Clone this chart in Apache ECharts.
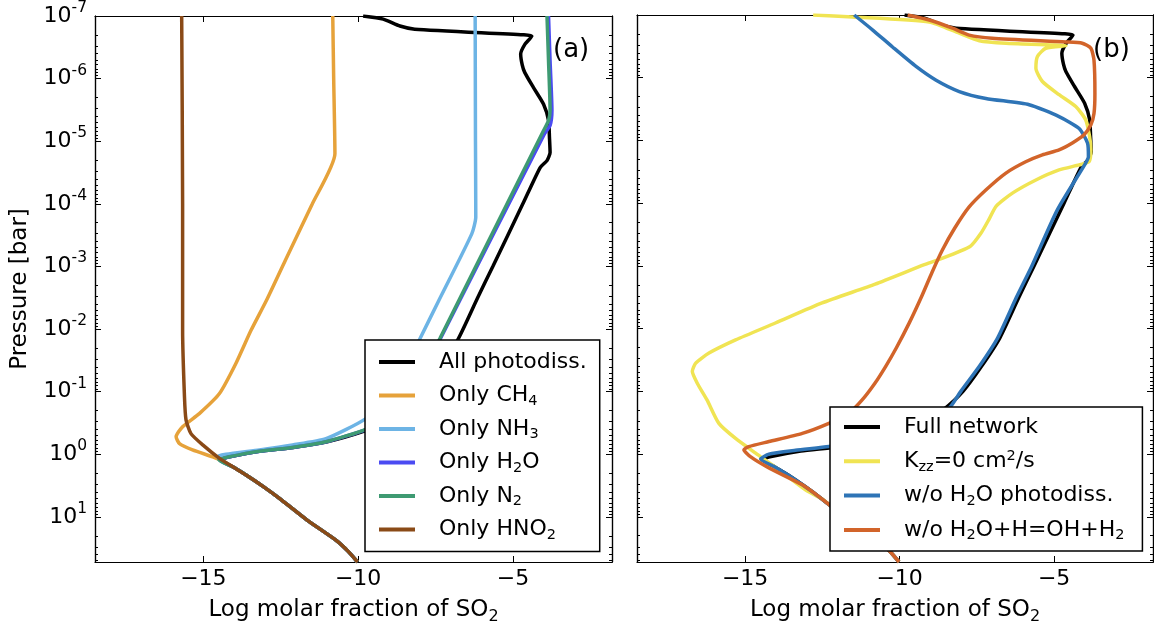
<!DOCTYPE html>
<html><head><meta charset="utf-8">
<script src="https://cdn.jsdelivr.net/npm/echarts@6/dist/echarts.min.js"></script>
<style>html,body{margin:0;padding:0;background:#fff}#c{width:1154px;height:630px}</style>
</head><body><div id="c"></div>
<script>
// ---------- axis ticks ----------
const yMajorTicks = [-7, -6, -5, -4, -3, -2, -1, 0, 1];   // log10(P / bar)
const xMajorTicks = [-15, -10, -5];                          // log molar fraction
const xRange = [-18.5, -1.8];
const yRange = [-7, 1.72];

// ---------- data: [log10 molar fraction of SO2, log10 pressure(bar)] ----------
const deepTail = [[-13.62,0.33],[-13.05,0.52],[-12.5,0.72],[-11.65,1.05],[-10.72,1.37],[-10.32,1.55],[-10.02,1.72]];

const allPhotodiss = [[-9.84,-7.0],[-9.19,-6.95],[-8.65,-6.84],[-8.17,-6.79],[-4.66,-6.70],[-4.39,-6.68],[-4.61,-6.55],[-4.75,-6.39],[-4.70,-6.22],[-4.62,-6.10],[-4.34,-5.86],[-4.01,-5.59],[-3.85,-5.33],[-3.82,-5.06],[-3.80,-4.82],[-3.90,-4.69],[-4.12,-4.58],[-4.68,-4.0],[-5.65,-3.0],[-6.14,-2.5],[-6.76,-1.85],[-7.35,-1.4],[-7.95,-1.0],[-8.6,-0.7],[-9.2,-0.5],[-9.8,-0.37],[-11.0,-0.2],[-12.1,-0.11],[-13.2,-0.05],[-14.16,0.04],[-14.45,0.09],[-14.05,0.2]];
const onlyCH4 = [[-10.82,-7.0],[-10.79,-6.0],[-10.75,-4.80],[-11.49,-3.99],[-12.35,-3.1],[-12.96,-2.46],[-13.46,-1.98],[-13.95,-1.45],[-14.48,-0.97],[-15.13,-0.65],[-15.67,-0.44],[-15.88,-0.28],[-15.77,-0.17],[-15.35,-0.07],[-14.70,0.04],[-14.45,0.09],[-14.05,0.2]];
const onlyNH3 = [[-6.22,-7.0],[-6.21,-5.0],[-6.20,-3.79],[-6.33,-3.52],[-7.39,-2.46],[-8.0,-1.85],[-8.35,-1.5],[-8.7,-1.2],[-9.1,-0.9],[-9.75,-0.57],[-11.04,-0.25],[-12.12,-0.15],[-13.19,-0.07],[-14.27,0.0],[-14.54,0.04],[-14.4,0.1],[-14.05,0.2]];
const onlyH2O = [[-3.85,-7.0],[-3.80,-6.28],[-3.74,-5.49],[-3.80,-5.25],[-3.98,-5.12],[-7.34,-1.85],[-7.70,-1.5],[-8.03,-1.2],[-8.43,-0.9],[-9.03,-0.6],[-9.73,-0.40],[-11.02,-0.20],[-12.10,-0.11],[-13.17,-0.05],[-14.14,0.04],[-14.48,0.09],[-14.05,0.2]];
const onlyN2 = [[-3.90,-7.0],[-3.85,-6.28],[-3.80,-5.49],[-3.85,-5.33],[-4.01,-5.17],[-7.36,-1.85],[-7.72,-1.5],[-8.05,-1.2],[-8.45,-0.9],[-9.05,-0.6],[-9.75,-0.40],[-11.04,-0.20],[-12.12,-0.11],[-13.19,-0.05],[-14.16,0.04],[-14.5,0.09],[-14.05,0.2]];
const onlyHNO2 = [[-15.70,-7.0],[-15.67,-4.0],[-15.67,-1.98],[-15.61,-0.92],[-15.56,-0.55],[-15.40,-0.33],[-15.02,-0.15],[-14.48,0.065],[-14.05,0.2]];

const kzzZero = [[-12.8,-7.0],[-11.52,-6.97],[-9.04,-6.89],[-8.07,-6.71],[-7.42,-6.59],[-6.56,-6.55],[-4.62,-6.51],[-5.27,-6.47],[-5.54,-6.34],[-5.59,-6.15],[-5.38,-5.94],[-4.84,-5.73],[-4.30,-5.54],[-3.98,-5.33],[-3.85,-5.06],[-3.81,-4.85],[-3.87,-4.66],[-4.19,-4.61],[-4.84,-4.53],[-5.59,-4.37],[-6.35,-4.16],[-6.88,-3.95],[-7.1,-3.75],[-7.37,-3.52],[-7.72,-3.31],[-8.74,-3.10],[-9.2,-3.02],[-10.79,-2.71],[-12.51,-2.41],[-14.02,-2.09],[-15.31,-1.82],[-16.17,-1.61],[-16.60,-1.45],[-16.71,-1.32],[-16.55,-1.13],[-16.23,-0.86],[-15.85,-0.49],[-15.31,-0.25],[-14.66,-0.015],[-13.91,0.25],[-13.05,0.57],[-12.5,0.72]];
const noH2OPhoto = [[-11.47,-7.0],[-10.87,-6.76],[-10.23,-6.49],[-9.47,-6.18],[-8.82,-5.96],[-8.07,-5.78],[-7.21,-5.67],[-5.81,-5.57],[-4.84,-5.38],[-4.19,-5.19],[-3.92,-4.96],[-3.89,-4.74],[-3.98,-4.64],[-4.90,-3.89],[-5.72,-3.0],[-6.22,-2.5],[-6.83,-1.85],[-7.42,-1.4],[-8.02,-1.0],[-8.35,-0.76],[-8.75,-0.6],[-9.35,-0.45],[-10.3,-0.3],[-11.3,-0.2],[-12.29,-0.12],[-13.37,-0.06],[-14.23,0.0],[-14.50,0.08],[-14.05,0.2]];
const noH2OplusH = [[-9.74,-7.0],[-9.04,-6.92],[-8.29,-6.79],[-7.75,-6.68],[-7.0,-6.63],[-4.62,-6.57],[-4.09,-6.55],[-3.81,-6.47],[-3.71,-6.28],[-3.68,-5.75],[-3.71,-5.43],[-3.81,-5.25],[-4.03,-5.09],[-4.41,-4.96],[-4.84,-4.85],[-5.38,-4.77],[-5.92,-4.66],[-6.56,-4.48],[-7.21,-4.21],[-7.75,-3.94],[-8.22,-3.6],[-8.62,-3.25],[-8.95,-2.9],[-9.3,-2.5],[-9.68,-2.1],[-10.1,-1.7],[-10.45,-1.4],[-10.8,-1.13],[-11.22,-0.86],[-11.65,-0.65],[-12.29,-0.49],[-13.15,-0.33],[-14.23,-0.20],[-14.88,-0.12],[-15.04,-0.07],[-14.83,0.04],[-14.23,0.22],[-13.15,0.49],[-12.5,0.72]];

// ---------- names / colours ----------
const namesA = ['All photodiss.', 'Only CH4', 'Only NH3', 'Only H2O', 'Only N2', 'Only HNO2'];
const namesB = ['Full network', 'Kzz=0 cm2/s', 'w/o H2O photodiss.', 'w/o H2O+H=OH+H2'];
const richNames = {
  'All photodiss.': 'All photodiss.',
  'Only CH4': 'Only CH{s|4}',
  'Only NH3': 'Only NH{s|3}',
  'Only H2O': 'Only H{s|2}O',
  'Only N2': 'Only N{s|2}',
  'Only HNO2': 'Only HNO{s|2}',
  'Full network': 'Full network',
  'Kzz=0 cm2/s': 'K{s|zz}=0 cm{p|2}/s',
  'w/o H2O photodiss.': 'w/o H{s|2}O photodiss.',
  'w/o H2O+H=OH+H2': 'w/o H{s|2}O+H=OH+H{s|2}'
};
const colorsA = ['#000000', '#E6A23A', '#6DB4E5', '#4B4BF2', '#3E9A72', '#8A4A17'];
const colorsB = ['#000000', '#F0E453', '#2E74B6', '#D2642A'];

const FONT = 'DejaVu Sans';
const withTail = arr => arr.concat(deepTail.filter(p => p[1] > arr[arr.length - 1][1]));

const yMinorTicks = [];
for (let n = -7; n <= 1; n++) for (let k = 2; k <= 9; k++) {
  const v = n + Math.log10(k);
  if (v < yRange[1]) yMinorTicks.push(v);
}

const subRich = {
  s: {fontFamily: FONT, fontSize: 14.5, lineHeight: 14, verticalAlign: 'bottom', color: '#000'},
  p: {fontFamily: FONT, fontSize: 14.5, lineHeight: 14, verticalAlign: 'top', color: '#000'},
  g: {fontFamily: FONT, fontSize: 19, width: 19}
};

function xAx(grid, pos, withLabel) {
  return {
    type: 'value', gridIndex: grid, position: pos, min: xRange[0], max: xRange[1],
    axisLine: {show: true, onZero: false, lineStyle: {color: '#000', width: 1.2}},
    axisTick: {show: true, inside: true, length: 6, customValues: xMajorTicks, lineStyle: {color: '#000', width: 1}},
    axisLabel: {show: withLabel, customValues: xMajorTicks, margin: 6, fontSize: 22, fontFamily: FONT, color: '#000',
      formatter: v => (v < 0 ? '\u2212' : '') + Math.abs(v)},
    splitLine: {show: false},
    name: withLabel ? 'Log molar fraction of SO{s|2}' : '',
    nameLocation: 'middle', nameGap: 33,
    nameTextStyle: {fontFamily: FONT, fontSize: 23, color: '#000', lineHeight: 30, rich: {
      s: {fontFamily: FONT, fontSize: 16, lineHeight: 16, verticalAlign: 'bottom', color: '#000'}}}
  };
}
function yAx(grid, pos, ticks, len, withLabel) {
  return {
    type: 'value', gridIndex: grid, position: pos, inverse: true, min: yRange[0], max: yRange[1],
    axisLine: {show: true, onZero: false, lineStyle: {color: '#000', width: 1.2}},
    axisTick: {show: true, inside: true, length: len, customValues: ticks, lineStyle: {color: '#000', width: 1}},
    axisLabel: {show: withLabel, customValues: yMajorTicks, margin: 8, color: '#000',
      formatter: v => '{b|10}{e|' + (v < 0 ? '-' : '') + Math.abs(v) + '}',
      rich: {b: {fontFamily: FONT, fontSize: 22, lineHeight: 32, color: '#000'},
             e: {fontFamily: FONT, fontSize: 15.5, lineHeight: 16, verticalAlign: 'top', color: '#000'}}},
    splitLine: {show: false},
    name: withLabel ? 'Pressure [bar]' : '',
    nameLocation: 'middle', nameGap: 63,
    nameTextStyle: {fontFamily: FONT, fontSize: 23, color: '#000'}
  };
}

const seriesA = [allPhotodiss, onlyCH4, onlyNH3, onlyH2O, onlyN2, onlyHNO2];
const seriesB = [allPhotodiss, kzzZero, noH2OPhoto, noH2OplusH];
const series = [];
seriesA.forEach((d, i) => series.push({
  type: 'line', name: namesA[i], xAxisIndex: 0, yAxisIndex: 0, data: withTail(d),
  showSymbol: false, symbol: 'none', smooth: 0.2, color: colorsA[i],
  lineStyle: {width: 3.5, color: colorsA[i]}, animation: false
}));
seriesB.forEach((d, i) => series.push({
  type: 'line', name: namesB[i], xAxisIndex: 2, yAxisIndex: 4, data: withTail(d),
  showSymbol: false, symbol: 'none', smooth: 0.2, color: colorsB[i],
  lineStyle: {width: 3.5, color: colorsB[i]}, animation: false
}));

function legendCfg(names, left, top, padding, gap) {
  return {
    data: names, orient: 'vertical', left: left, top: top, padding: padding, itemGap: gap,
    icon: 'rect', itemWidth: 36, itemHeight: 4, selectedMode: false,
    backgroundColor: '#fff', borderColor: '#000', borderWidth: 1.5, borderRadius: 0,
    formatter: n => '{g| }' + richNames[n],
    textStyle: {fontFamily: FONT, fontSize: 22, lineHeight: 26, color: '#000', rich: subRich}
  };
}

const option = {
  animation: false,
  backgroundColor: '#fff',
  textStyle: {fontFamily: FONT},
  grid: [
    {left: 95, top: 15, width: 517, height: 547},
    {left: 637, top: 15, width: 516, height: 547}
  ],
  xAxis: [xAx(0, 'bottom', true), xAx(0, 'top', false), xAx(1, 'bottom', true), xAx(1, 'top', false)],
  yAxis: [
    yAx(0, 'left', yMajorTicks, 6, true), yAx(0, 'left', yMinorTicks, 3, false),
    yAx(0, 'right', yMajorTicks, 6, false), yAx(0, 'right', yMinorTicks, 3, false),
    yAx(1, 'left', yMajorTicks, 6, false), yAx(1, 'left', yMinorTicks, 3, false),
    yAx(1, 'right', yMajorTicks, 6, false), yAx(1, 'right', yMinorTicks, 3, false)
  ],
  legend: [
    legendCfg(namesA, 365, 340, [9, 13, 9, 14], 7.5),
    legendCfg(namesB, 830, 407, [7, 18, 8, 14], 8.3)
  ],
  graphic: [
    {type: 'text', x: 553, y: 50, style: {text: '(a)', fontFamily: FONT, fontSize: 26, fill: '#000', verticalAlign: 'middle'}},
    {type: 'text', x: 1093, y: 50, style: {text: '(b)', fontFamily: FONT, fontSize: 26, fill: '#000', verticalAlign: 'middle'}}
  ],
  series: series
};
const chart = echarts.init(document.getElementById('c'), null, {renderer: 'canvas'});
chart.setOption(option);
</script></body></html>
